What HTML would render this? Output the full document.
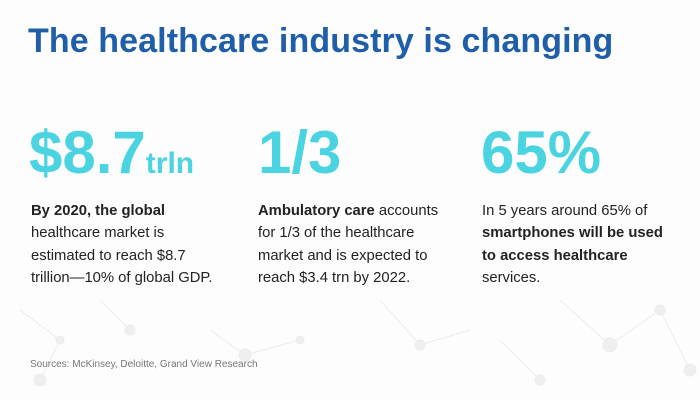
<!DOCTYPE html><html><head><style>
body{margin:0;width:700px;height:400px;overflow:hidden;background:#fdfdfd;font-family:"Liberation Sans",sans-serif;position:relative}
h1{position:absolute;left:28px;top:22px;margin:0;font-size:34px;font-weight:bold;color:#1f5ea8;letter-spacing:0.1px;white-space:nowrap}
.big{position:absolute;top:118px;font-size:60px;font-weight:bold;color:#4ad3e0;line-height:70px;white-space:nowrap}
.big small{font-size:30px}
.t{position:absolute;top:200px;font-size:14.8px;line-height:22.3px;color:#222;width:240px}
.src{position:absolute;left:30px;top:359px;font-size:10px;color:#777}
</style></head><body>
<svg width="700" height="400" style="position:absolute;left:0;top:0" stroke="#ececec" fill="#efefef">
<g stroke-width="1"><line x1="20" y1="310" x2="60" y2="340"/><line x1="60" y1="340" x2="40" y2="380"/><line x1="100" y1="300" x2="130" y2="330"/><line x1="210" y1="330" x2="245" y2="355"/><line x1="245" y1="355" x2="300" y2="340"/><line x1="380" y1="300" x2="420" y2="345"/><line x1="420" y1="345" x2="470" y2="330"/><line x1="560" y1="300" x2="610" y2="345"/><line x1="610" y1="345" x2="660" y2="310"/><line x1="660" y1="310" x2="690" y2="370"/><line x1="500" y1="340" x2="540" y2="380"/></g>
<circle cx="40" cy="380" r="6"/><circle cx="60" cy="340" r="4"/><circle cx="130" cy="330" r="5"/><circle cx="245" cy="355" r="6"/><circle cx="420" cy="345" r="5"/><circle cx="610" cy="345" r="7"/><circle cx="660" cy="310" r="5"/><circle cx="690" cy="370" r="6"/><circle cx="540" cy="380" r="5"/><circle cx="300" cy="340" r="4"/>
</svg>
<h1>The healthcare industry is changing</h1>
<div class="big" style="left:29px">$8.7<small>trln</small></div>
<div class="big" style="left:258px">1/3</div>
<div class="big" style="left:481px">65%</div>
<div class="t" style="left:31px"><b>By 2020, the global</b><br>healthcare market is<br>estimated to reach $8.7<br>trillion—10% of global GDP.</div>
<div class="t" style="left:258px"><b>Ambulatory care</b> accounts<br>for 1/3 of the healthcare<br>market and is expected to<br>reach $3.4 trn by 2022.</div>
<div class="t" style="left:482px">In 5 years around 65% of<br><b>smartphones will be used<br>to access healthcare</b><br>services.</div>
<div class="src">Sources: McKinsey, Deloitte, Grand View Research</div>
</body></html>
